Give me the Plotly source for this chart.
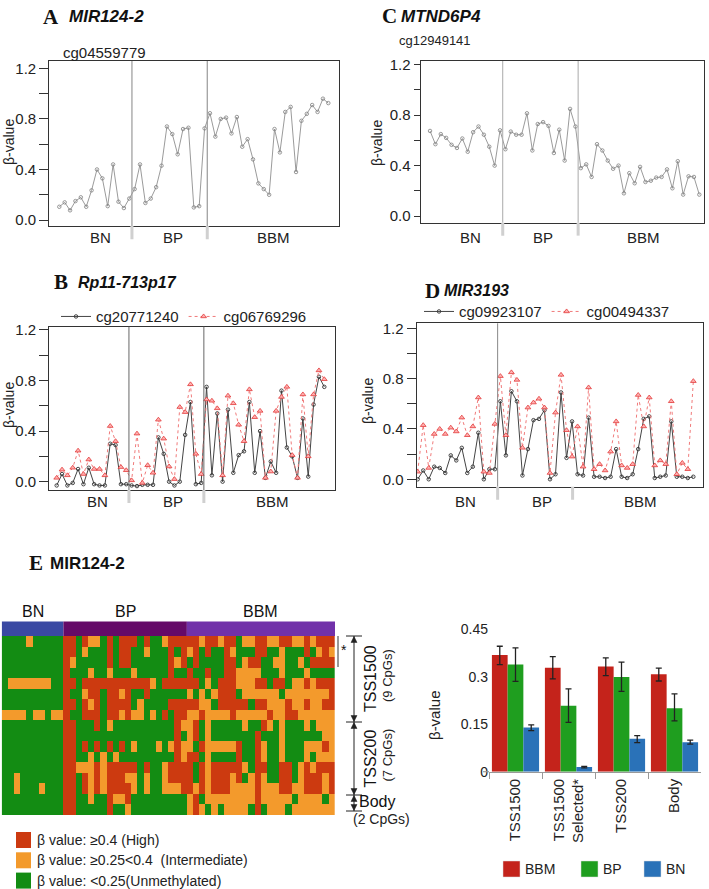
import plotly.graph_objects as go

W, H = 709, 889


def px_x(v):
    return v / W


def px_y(v):
    return 1 - v / H


groups = ["BN", "BP", "BBM"]

# ---- panel A : MIR124-2, one probe
a_gene = "MIR124-2"
a_probe = "cg04559779"
a_beta = [0.105, 0.14, 0.077, 0.15, 0.18, 0.105, 0.235, 0.40, 0.33, 0.11, 0.44, 0.145, 0.095, 0.17,
          0.245, 0.44, 0.135, 0.17, 0.26, 0.43, 0.74, 0.68, 0.52, 0.72, 0.73, 0.10, 0.11, 0.725,
          0.845, 0.66, 0.80, 0.81, 0.685, 0.815, 0.58, 0.64, 0.48, 0.29, 0.245, 0.20, 0.72, 0.535,
          0.855, 0.895, 0.38, 0.785, 0.84, 0.91, 0.855, 0.96, 0.925]

# ---- panel C : MTND6P4, one probe
c_gene = "MTND6P4"
c_probe = "cg12949141"
c_beta = [0.675, 0.57, 0.65, 0.62, 0.565, 0.54, 0.615, 0.51, 0.665, 0.71, 0.645, 0.55, 0.40, 0.68,
          0.53, 0.67, 0.645, 0.645, 0.815, 0.52, 0.73, 0.745, 0.715, 0.50, 0.685, 0.44, 0.85, 0.71,
          0.38, 0.41, 0.31, 0.57, 0.52, 0.44, 0.375, 0.40, 0.18, 0.34, 0.26, 0.39, 0.27, 0.28,
          0.305, 0.31, 0.37, 0.22, 0.435, 0.17, 0.315, 0.31, 0.17]

# ---- panel B : Rp11-713p17, two probes
b_gene = "Rp11-713p17"
b_probes = ["cg20771240", "cg06769296"]
b_beta1 = [-0.03, 0.06, -0.03, -0.01, 0.10, -0.02, 0.11, -0.02, -0.03, -0.03, 0.30, 0.29, -0.02, -0.02,
           -0.03, -0.035, -0.025, -0.025, -0.025, 0.35, 0.22, 0.0, -0.03, 0.0, 0.37, 0.63, -0.02, -0.01,
           0.75, 0.05, 0.54, 0.0, 0.57, 0.07, 0.21, 0.24, 0.63, 0.07, 0.40, 0.03, 0.16, 0.07,
           0.72, 0.27, 0.20, 0.03, 0.50, 0.04, 0.61, 0.83, 0.75]
b_beta2 = [0.03, 0.095, 0.05, 0.11, 0.245, 0.06, 0.175, 0.10, 0.10, 0.05, 0.44, 0.32, 0.115, 0.09,
           0.01, 0.38, -0.01, 0.13, 0.07, 0.49, 0.34, 0.12, 0.02, 0.59, 0.55, 0.77, 0.22, 0.06,
           0.65, 0.64, 0.58, 0.05, 0.68, 0.62, 0.45, 0.32, 0.73, 0.51, 0.56, 0.03, 0.08, 0.56,
           0.67, 0.75, 0.21, 0.03, 0.69, 0.20, 0.69, 0.88, 0.81]

# ---- panel D : MIR3193, two probes
d_gene = "MIR3193"
d_probes = ["cg09923107", "cg00494337"]
d_beta1 = [0.0, 0.07, 0.0, 0.10, 0.09, 0.05, 0.19, 0.15, 0.25, 0.05, 0.10, 0.37, 0.0, 0.08, 0.08,
           0.62, 0.19, 0.70, 0.62, 0.03, 0.24, 0.47, 0.48, 0.55, 0.0, 0.04, 0.69, 0.17, 0.46,
           0.04, 0.03, 0.49, 0.02, 0.02, 0.01, 0.02, 0.24, 0.02, 0.01, 0.04, 0.24, 0.48, 0.50,
           0.01, 0.02, 0.03, 0.46, 0.02, 0.02, 0.01, 0.02]
d_beta2 = [0.06, 0.43, 0.09, 0.36, 0.40, 0.36, 0.41, 0.38, 0.49, 0.35, 0.42, 0.65, 0.06, 0.05, 0.44,
           0.82, 0.35, 0.85, 0.79, 0.25, 0.57, 0.61, 0.64, 0.57, 0.05, 0.53, 0.83, 0.39, 0.18,
           0.42, 0.10, 0.73, 0.08, 0.12, 0.07, 0.22, 0.46, 0.11, 0.09, 0.12, 0.67, 0.42, 0.65,
           0.11, 0.15, 0.12, 0.62, 0.04, 0.13, 0.08, 0.78]

# ---- panel E heatmap (G <0.25, O 0.25-0.4, R >=0.4), columns BN | BP | BBM
heat_group_sizes = [10, 20, 24]
heat_rows = [
    "GGGGOGGGGG" + "RRGROOGRGR" + "RRGRGGORRR" + "RRORROR" + "RGOORROORROORORRR",
    "GGGGGGGGGG" + "RRGOGGGRGR" + "RGGOGGGRGR" + "ORGRGGR" + "OGGGRRGGOGGGRGORO",
    "GGGGGGGGGG" + "ROGGGGGRGR" + "RGGGGGGROR" + "GRGGGGR" + "RGORRGGOOGGOGRRRR",
    "GGGGGGGGGG" + "RGGGOGGOGG" + "GOGGGGGRGG" + "RGGRGGR" + "ROOOOGGGOGGGOGGGG",
    "GOOOOOOOGG" + "RRGRRRRRRR" + "RRRROGRRRR" + "RRGOGRR" + "ROOORRGRRGOORORRR",
    "GGGGGGGGGG" + "RGGORRGRRO" + "RGGRGGGGGG" + "OGOGORR" + "RGOOOOOOGOOOOOOOR",
    "GGGGGGGGGG" + "RRGRORGRRR" + "RGOGGGGRRR" + "RROOGRR" + "RRRGRROOOROOROORR",
    "OOOOGOOGOO" + "RGGRRRGRRO" + "ROOGOGRGRR" + "OOROOOO" + "ROOOOOROORROOOOOO",
    "GGGGGGGGGG" + "RRGGGRGOGG" + "GGGGGGGGRO" + "ORGOGGG" + "GGOGGROGOGGGOGOOO",
    "GGGGGGGGGG" + "RRGGGGGGGG" + "GGGGGGGGRG" + "ORGOGGG" + "GGGGRGGGOGGGGGGOO",
    "GGGGGGGGGG" + "RRGRGRGRGR" + "GOGGGOGORO" + "OGROOOO" + "ORGGROGGOGGGOOORO",
    "GGGGGGGGGG" + "RRGGOGOGOG" + "GGGGGGGGRO" + "RRGOGGG" + "GRGGROGGOGGGOGOOO",
    "GGGGGGGGGG" + "RROOORORRR" + "RRGRGGORRR" + "RGRORRR" + "RROGRRGGRRGORORRR",
    "GGOGGGGGGG" + "RRGRORORRR" + "OOGOGGORRR" + "RGRORRR" + "ORGOROGGRRGORRROR",
    "GGOGGGOGGG" + "RRGRORORRR" + "ROGOGGOOOR" + "RORORRR" + "OOOOROOORROORRROR",
    "GGGGGGGGGG" + "RRGGOGGROO" + "RGGGGGGGGG" + "ORGOOOO" + "OOOOROOOOOGOOOOGO",
    "GGGGGGGGGG" + "RRGGGGGRGG" + "OGGGGGGGGG" + "OROGOGO" + "OOOGRGOOOGOOOOOOO",
]
level_code = {"G": 0, "O": 1, "R": 2}
level_labels = ["β value: ≥0.4 (High)", "β value: ≥0.25<0.4  (Intermediate)",
                "β value: <0.25(Unmethylated)"]
region_labels = [("TSS1500", "(9 CpGs)"), ("TSS200", "(7 CpGs)"), ("Body", "(2 CpGs)")]

# ---- bar chart
bar_regions = ["TSS1500", "TSS1500<br>Selected*", "TSS200", "Body"]
bar_groups = ["BBM", "BP", "BN"]
bar_mean = {"BBM": [0.369, 0.329, 0.333, 0.308],
            "BP": [0.339, 0.209, 0.300, 0.201],
            "BN": [0.140, 0.015, 0.104, 0.093]}
bar_hi = {"BBM": [0.397, 0.364, 0.360, 0.328],
          "BP": [0.392, 0.262, 0.347, 0.246],
          "BN": [0.148, 0.017, 0.114, 0.100]}
bar_lo = {"BBM": [0.339, 0.294, 0.304, 0.287],
          "BP": [0.286, 0.156, 0.254, 0.161],
          "BN": [0.130, 0.012, 0.092, 0.087]}

bar_colors = {"BBM": "#c4231b", "BP": "#1f9e1f", "BN": "#2a72b8"}
heat_colors = ["#138c13", "#f39a2c", "#cc3a10"]
head_colors = ["#3a49a3", "#650a68", "#7131a9"]

FONT = "Liberation Sans, Arial, sans-serif"
SERIF = "Liberation Serif, Times New Roman, serif"

fig = go.Figure()
annots = []
shapes = []


def xs(vals):
    return list(range(1, len(vals) + 1))


def ax_name(kind, n):
    return kind + ("" if n == 1 else str(n))


def note(text, x, y, size=15, xanchor="center", angle=0, color="#222", family=None, xref="paper"):
    f = dict(size=size, color=color)
    if family:
        f["family"] = family
    annots.append(dict(text=text, x=x, y=px_y(y), xref=xref, yref="paper", xanchor=xanchor,
                       yanchor="middle", showarrow=False, textangle=angle, font=f))


def line_axes(n, xdom, ydom, xr, yr, ticklen):
    box = dict(showgrid=False, zeroline=False, showline=True, mirror=True,
               linecolor="#333", linewidth=1.2, automargin=False)
    fig.update_layout({
        ax_name("xaxis", n): dict(domain=[px_x(xdom[0]), px_x(xdom[1])], range=xr,
                                  anchor=ax_name("y", n), showticklabels=False, ticks="", **box),
        ax_name("yaxis", n): dict(domain=[px_y(ydom[1]), px_y(ydom[0])], range=yr,
                                  anchor=ax_name("x", n),
                                  tickvals=[0, 0.2, 0.4, 0.6, 0.8, 1.0, 1.2],
                                  ticktext=["0.0", "", "0.4", "", "0.8", "", "1.2"],
                                  ticks="outside", ticklen=ticklen, tickcolor="#333",
                                  tickfont=dict(size=15, color="#222"), **box),
    })


def dividers(n, positions, inside, col="#999", w=1.2):
    for i, p in enumerate(positions):
        if inside[i]:
            shapes.append(dict(type="line", xref=ax_name("x", n), yref=ax_name("y", n) + " domain",
                               x0=p, x1=p, y0=0, y1=1, line=dict(color=col, width=w)))
        shapes.append(dict(type="line", xref=ax_name("x", n), yref=ax_name("y", n) + " domain",
                           x0=p, x1=p, y0=-0.08, y1=0, line=dict(color="#d0d0d0", width=3)))


def group_labels(xpx, ypx):
    for g, x in zip(groups, xpx):
        note(g, px_x(x), ypx)


def ylabel(xpx, ypx, size=14):
    note("β-value", px_x(xpx), ypx, size=size, angle=-90)


def title(letter, gene, xl, xg, ypx, italic=True, gsize=17):
    note("<b>" + letter + "</b>", px_x(xl), ypx, size=21, xanchor="left", color="#111",
         family=SERIF)
    g = "<b><i>" + gene + "</i></b>" if italic else "<b>" + gene + "</b>"
    note(g, px_x(xg), ypx, size=gsize, xanchor="left", color="#111")


gray_line = dict(color="#8e8e8e", width=0.9)
gray_mark = dict(symbol="circle-open", size=3.5, color="#808080", line=dict(width=0.8))
blk_line = dict(color="#444", width=1)
blk_mark = dict(symbol="circle-open", size=3.5, color="#333", line=dict(width=0.9))
red_line = dict(color="#f07a7a", width=1, dash="dot")
red_mark = dict(symbol="triangle-up", size=5, color="#ffb0b0", line=dict(color="#e23a3a", width=0.8))

# panel A
fig.add_trace(go.Scatter(x=xs(a_beta), y=a_beta, mode="lines+markers", line=gray_line,
                         marker=gray_mark, showlegend=False, xaxis="x", yaxis="y"))
line_axes(1, (49.3, 339.3), (61, 226), [-0.86, 53.04], [-0.047, 1.258], 9)
dividers(1, [14.5, 28.5], [True, True], w=1.2)
group_labels([100, 173, 273], 238)
ylabel(9, 142)
title("A", a_gene, 41, 67, 17)
note(a_probe, px_x(61), 52, xanchor="left")

# panel C
fig.add_trace(go.Scatter(x=xs(c_beta), y=c_beta, mode="lines+markers", line=gray_line,
                         marker=gray_mark, showlegend=False, xaxis="x2", yaxis="y2"))
line_axes(2, (420.7, 704), (61, 222.7), [-0.73, 51.87], [-0.053, 1.23], 6)
dividers(2, [14.5, 28.5], [True, True], col="#aaa", w=1)
group_labels([470, 543, 643], 238)
ylabel(377, 143)
title("C", c_gene, 380, 399, 16)
note(c_probe, px_x(397), 41, size=13, xanchor="left")

# panel B
fig.add_trace(go.Scatter(x=xs(b_beta1), y=b_beta1, mode="lines+markers", line=blk_line,
                         marker=blk_mark, name=b_probes[0], legend="legend",
                         xaxis="x3", yaxis="y3"))
fig.add_trace(go.Scatter(x=xs(b_beta2), y=b_beta2, mode="lines+markers", line=red_line,
                         marker=red_mark, name=b_probes[1], legend="legend",
                         xaxis="x3", yaxis="y3"))
line_axes(3, (49.3, 335), (326.7, 490), [-0.38, 53.0], [-0.066, 1.226], 9)
dividers(3, [14.5, 28.5], [True, True], col="#666", w=1)
group_labels([97, 173, 272], 502)
ylabel(9, 405)
title("B", b_gene, 52, 76, 282, gsize=16)

# panel D
fig.add_trace(go.Scatter(x=xs(d_beta1), y=d_beta1, mode="lines+markers", line=blk_line,
                         marker=blk_mark, name=d_probes[0], legend="legend2",
                         xaxis="x4", yaxis="y4"))
fig.add_trace(go.Scatter(x=xs(d_beta2), y=d_beta2, mode="lines+markers", line=red_line,
                         marker=red_mark, name=d_probes[1], legend="legend2",
                         xaxis="x4", yaxis="y4"))
line_axes(4, (416.7, 702.7), (323.3, 486.7), [0.82, 52.7], [-0.059, 1.24], 9)
dividers(4, [15.5, 29.1], [True, False], col="#888", w=1)
group_labels([465, 542, 640], 501)
ylabel(368, 401)
title("D", d_gene, 423, 442, 291, gsize=16)

# panel E heatmap
z = [[level_code[c] for c in row] for row in heat_rows]
ncol = len(z[0])
nrow = len(z)
fig.add_trace(go.Heatmap(
    z=z, x=list(range(ncol)), y=list(range(nrow)), zmin=0, zmax=2, showscale=False,
    colorscale=[[0, heat_colors[0]], [0.333, heat_colors[0]], [0.333, heat_colors[1]],
                [0.667, heat_colors[1]], [0.667, heat_colors[2]], [1, heat_colors[2]]],
    xaxis="x5", yaxis="y5", hoverinfo="skip"))
fig.update_layout(
    xaxis5=dict(domain=[px_x(1.7), px_x(335)], range=[-0.5, ncol - 0.5], visible=False,
                anchor="y5", automargin=False),
    yaxis5=dict(domain=[px_y(815), px_y(636)], range=[nrow - 0.5, -0.5], visible=False,
                anchor="x5", automargin=False),
)
start = -0.5
head_x = []
for g, n, col in zip(groups, heat_group_sizes, head_colors):
    shapes.append(dict(type="rect", xref="x5", yref="paper", x0=start, x1=start + n,
                       y0=px_y(636), y1=px_y(621.5), fillcolor=col, line=dict(width=0)))
    head_x.append(start + n / 2)
    start += n
for g, x in zip(groups, head_x):
    note(g, x, 611, size=16, color="#111", xref="x5")
title("E", "MIR124-2", 27, 48, 563, italic=False, gsize=17)

# heatmap legend
for i, (lab, col) in enumerate(zip(level_labels, heat_colors[::-1])):
    yc = 840 + i * 20.3
    shapes.append(dict(type="rect", xref="paper", yref="paper", x0=px_x(16), x1=px_x(31),
                       y0=px_y(yc + 8), y1=px_y(yc - 8), fillcolor=col, line=dict(width=0)))
    note(lab, px_x(35), yc, size=14, xanchor="left")

# region brackets at the right of the heatmap
bx = 354
marks = [636, 722, 795, 811]
for yv in marks:
    shapes.append(dict(type="line", xref="paper", yref="paper", x0=px_x(346), x1=px_x(362),
                       y0=px_y(yv), y1=px_y(yv), line=dict(color="#222", width=1)))
shapes.append(dict(type="line", xref="paper", yref="paper", x0=px_x(bx), x1=px_x(bx),
                   y0=px_y(marks[0]), y1=px_y(marks[-1]), line=dict(color="#222", width=1)))


def arrow_head(ytip, up):
    d = 6 if up else -6
    path = "M {} {} L {} {} L {} {} Z".format(px_x(bx), px_y(ytip), px_x(bx - 3), px_y(ytip + d),
                                              px_x(bx + 3), px_y(ytip + d))
    shapes.append(dict(type="path", xref="paper", yref="paper", path=path,
                       fillcolor="#222", line=dict(color="#222", width=0.5)))


for a, b in zip(marks[:-1], marks[1:]):
    arrow_head(a + 0.5, True)
    arrow_head(b - 0.5, False)

for (lab, cnt), (a, b) in zip(region_labels[:2], zip(marks[:2], marks[1:3])):
    note(lab, px_x(370), (a + b) / 2, size=16, angle=-90, color="#111")
    note(cnt, px_x(387), (a + b) / 2 - 3, size=13, angle=-90)
note(region_labels[2][0], px_x(357), 801, size=16, xanchor="left", color="#111")
note(region_labels[2][1], px_x(351), 819, size=14, xanchor="left")
shapes.append(dict(type="line", xref="paper", yref="paper", x0=px_x(338), x1=px_x(338),
                   y0=px_y(636), y1=px_y(667), line=dict(color="#333", width=1)))
note("*", px_x(344), 650, size=14, color="#111")

# bar chart
for g in bar_groups:
    m = bar_mean[g]
    fig.add_trace(go.Bar(
        x=bar_regions, y=m, name=g, marker=dict(color=bar_colors[g], line=dict(width=0)),
        error_y=dict(type="data", symmetric=False,
                     array=[h - v for h, v in zip(bar_hi[g], m)],
                     arrayminus=[v - l for l, v in zip(bar_lo[g], m)],
                     color="#222", thickness=1.3, width=3),
        showlegend=False, xaxis="x6", yaxis="y6"))
fig.update_layout(
    xaxis6=dict(domain=[px_x(489), px_x(701)], anchor="y6", type="category", tickangle=-90,
                ticks="outside", tickson="boundaries", ticklen=6, tickcolor="#999",
                showline=True, linecolor="#999", linewidth=1.2, showgrid=False,
                automargin=False, tickfont=dict(size=15, color="#222")),
    yaxis6=dict(domain=[px_y(771.7), px_y(629.5)], anchor="x6", range=[0, 0.45],
                tickvals=[0, 0.15, 0.3, 0.45], ticktext=["0", "0.15", "0.3", "0.45"],
                showgrid=False, zeroline=False, showline=False, ticks="", automargin=False,
                tickfont=dict(size=14, color="#222")),
    barmode="group", bargap=0.11, bargroupgap=0,
)
shapes.append(dict(type="line", xref="paper", yref="paper", x0=px_x(483), x1=px_x(489),
                   y0=px_y(771.7), y1=px_y(771.7), line=dict(color="#999", width=1.2)))
ylabel(434, 716, size=15)
for g, xl in zip(bar_groups, [503, 581, 644]):
    shapes.append(dict(type="rect", xref="paper", yref="paper", x0=px_x(xl), x1=px_x(xl + 17),
                       y0=px_y(877), y1=px_y(861), fillcolor=bar_colors[g],
                       line=dict(color="#ddd", width=0.5)))
    note(g, px_x(xl + 20), 869, size=14, xanchor="left")

leg = dict(orientation="h", xanchor="left", yanchor="middle", bgcolor="rgba(0,0,0,0)",
           font=dict(size=15, color="#222"), itemwidth=30, tracegroupgap=0)
fig.update_layout(
    width=W, height=H, margin=dict(l=0, r=0, t=0, b=0, pad=0), autosize=False,
    paper_bgcolor="white", plot_bgcolor="white",
    font=dict(family=FONT, color="#222"),
    legend=dict(x=px_x(56), y=px_y(316.7), **leg),
    legend2=dict(x=px_x(419), y=px_y(311.7), **leg),
    annotations=annots, shapes=shapes,
)

fig.write_html("out.html", config={"displayModeBar": False},
               post_script="document.body.style.margin='0';")
